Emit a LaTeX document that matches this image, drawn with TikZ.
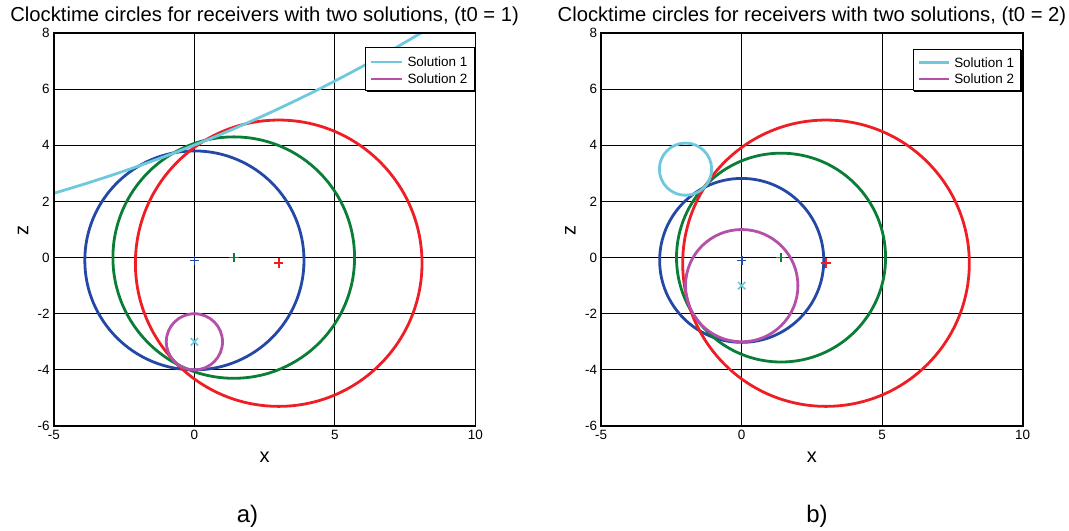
\documentclass[tikz,border=0pt]{standalone}
\usepackage{fontspec}
\setmainfont{Liberation Sans}
\usetikzlibrary{positioning}
\definecolor{rxblue}{RGB}{36,72,165}
\definecolor{rxgreen}{RGB}{10,125,55}
\definecolor{rxred}{RGB}{238,30,36}
\definecolor{solcyan}{RGB}{110,200,222}
\definecolor{solmag}{RGB}{180,80,170}

\begin{document}
\begin{tikzpicture}[x=1bp, y=1bp,
  circ/.style={line width=2.8bp},
  gridln/.style={black, line width=0.9bp},
  frameln/.style={black, line width=1.6bp},
  rxmark/.style={line width=1.7bp},
  ticklbl/.style={font=\fontsize{13.5}{15}\selectfont, inner sep=0pt},
  leglbl/.style={font=\fontsize{13.5}{15}\selectfont, inner sep=0pt, anchor=east},
  ttl/.style={font=\fontsize{20.3}{22}\selectfont, inner sep=0pt, anchor=base},
  axlbl/.style={font=\fontsize{20}{22}\selectfont, inner sep=0pt},
  caplbl/.style={font=\fontsize{24}{26}\selectfont, inner sep=0pt}
]
\useasboundingbox (0,0) rectangle (1069,531);

% panel a) t0 = 1
\begin{scope}[shift={(194.4,273.4)}, x=28.1bp, y=28.07bp]
  \begin{scope}
    \clip (-5,-6) rectangle (10,8);
    \draw[gridln] (0,-6) -- (0,8) (5,-6) -- (5,8);
    \draw[gridln] (-5,-4) -- (10,-4) (-5,-2) -- (10,-2) (-5,0) -- (10,0)
                  (-5,2) -- (10,2) (-5,4) -- (10,4) (-5,6) -- (10,6);
    \draw[circ, rxblue]  (0,-0.1) circle[radius=3.9];
    \draw[circ, rxgreen] (1.4,0) circle[radius=4.3];
    \draw[circ, rxred]   (3,-0.2) circle[radius=5.1];
    \draw[circ, solcyan] (-20.5,55.6) circle[radius=55.5];
    \draw[circ, solmag]  (0,-3) circle[radius=1];
    \draw[rxmark, rxblue]  (0,-0.1) +(-0.17,0) -- +(0.17,0) +(0,-0.17) -- +(0,0.17);
    \draw[rxmark, rxgreen] (1.4,0) +(-0.17,0) -- +(0.17,0) +(0,-0.17) -- +(0,0.17);
    \draw[rxmark, rxred]   (3,-0.2) +(-0.17,0) -- +(0.17,0) +(0,-0.17) -- +(0,0.17);
    \draw[rxmark, solcyan] (0,-3) +(-0.13,-0.13) -- +(0.13,0.13) +(-0.13,0.13) -- +(0.13,-0.13);
  \end{scope}
  % legend
  \draw[fill=white, line width=0.9bp] (6.1,5.97) rectangle (9.95,7.47);
  \draw[line width=1.1bp] (6.14,5.93) -- (9.99,5.93) -- (9.99,7.43);
  \draw[circ, solcyan] (6.3,6.97) -- (7.37,6.97);
  \draw[circ, solmag]  (6.3,6.36) -- (7.37,6.36);
  \node[leglbl] (leg1a) at (9.72,6.97) {Solution 1};
  \node[leglbl] (leg2a) at (9.72,6.36) {Solution 2};
  \draw[frameln] (-5,-6) rectangle (10,8);
  \foreach \yv in {-6,-4,...,8}
    \node[ticklbl, anchor=east, xshift=-4bp] (ya\yv) at (-5,\yv) {\yv};
  \foreach \xv in {-5,0,5,10}
    \node[ticklbl, anchor=north, yshift=-4bp] (xa\xv) at (\xv,-6) {\xv};
  \node[ttl] (titlea) at (2.5,8.41) {Clocktime circles for receivers with two solutions, (t0 = 1)};
  \node[axlbl] (xlaba) at (2.5,-7.1) {x};
  \node[axlbl, rotate=90] (zlaba) at (-6.1,0.98) {z};
  \node[caplbl] (capa) at (1.89,-9.23) {a)};
\end{scope}

% panel b) t0 = 2
\begin{scope}[shift={(741.7,273.4)}, x=28.1bp, y=28.07bp]
  \begin{scope}
    \clip (-5,-6) rectangle (10,8);
    \draw[gridln] (0,-6) -- (0,8) (5,-6) -- (5,8);
    \draw[gridln] (-5,-4) -- (10,-4) (-5,-2) -- (10,-2) (-5,0) -- (10,0)
                  (-5,2) -- (10,2) (-5,4) -- (10,4) (-5,6) -- (10,6);
    \draw[circ, rxblue]  (0,-0.1) circle[radius=2.92];
    \draw[circ, rxgreen] (1.4,0) circle[radius=3.72];
    \draw[circ, rxred]   (3,-0.2) circle[radius=5.1];
    \draw[circ, solcyan] (-2,3.15) circle[radius=0.93];
    \draw[circ, solmag]  (0,-1) circle[radius=2];
    \draw[rxmark, rxblue]  (0,-0.1) +(-0.17,0) -- +(0.17,0) +(0,-0.17) -- +(0,0.17);
    \draw[rxmark, rxgreen] (1.4,0) +(-0.17,0) -- +(0.17,0) +(0,-0.17) -- +(0,0.17);
    \draw[rxmark, rxred]   (3,-0.2) +(-0.17,0) -- +(0.17,0) +(0,-0.17) -- +(0,0.17);
    \draw[rxmark, solcyan] (0,-1) +(-0.13,-0.13) -- +(0.13,0.13) +(-0.13,0.13) -- +(0.13,-0.13);
  \end{scope}
  % legend
  \draw[fill=white, line width=0.9bp] (6.1,5.97) rectangle (9.93,7.43);
  \draw[line width=1.1bp] (6.14,5.93) -- (9.97,5.93) -- (9.97,7.39);
  \draw[circ, solcyan] (6.3,6.95) -- (7.37,6.95);
  \draw[circ, solmag]  (6.3,6.36) -- (7.37,6.36);
  \node[leglbl] (leg1b) at (9.7,6.95) {Solution 1};
  \node[leglbl] (leg2b) at (9.7,6.36) {Solution 2};
  \draw[frameln] (-5,-6) rectangle (10,8);
  \foreach \yv in {-6,-4,...,8}
    \node[ticklbl, anchor=east, xshift=-4bp] (yb\yv) at (-5,\yv) {\yv};
  \foreach \xv in {-5,0,5,10}
    \node[ticklbl, anchor=north, yshift=-4bp] (xb\xv) at (\xv,-6) {\xv};
  \node[ttl] (titleb) at (2.5,8.41) {Clocktime circles for receivers with two solutions, (t0 = 2)};
  \node[axlbl] (xlabb) at (2.5,-7.1) {x};
  \node[axlbl, rotate=90] (zlabb) at (-6.1,0.98) {z};
  \node[caplbl] (capb) at (2.68,-9.23) {b)};
\end{scope}
\end{tikzpicture}
\end{document}
